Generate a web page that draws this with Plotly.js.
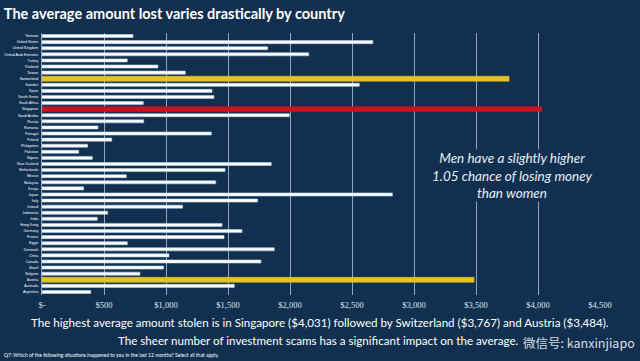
<!DOCTYPE html>
<html><head><meta charset="utf-8">
<script src="https://cdn.plot.ly/plotly-3.0.1.min.js"></script>
<style>html,body{margin:0;padding:0;background:#11304f;}#c{width:640px;height:361px;}</style>
</head><body><div id="c"></div>
<script>
const countries = ["Vietnam","United States","United Kingdom","United Arab Emirates","Turkey","Thailand","Taiwan","Switzerland","Sweden","Spain","South Korea","South Africa","Singapore","Saudi Arabia","Russia","Romania","Portugal","Poland","Philippines","Pakistan","Nigeria","New Zealand","Netherlands","Mexico","Malaysia","Kenya","Japan","Italy","Ireland","Indonesia","India","Hong Kong","Germany","France","Egypt","Denmark","China","Canada","Brazil","Belgium","Austria","Australia","Argentina"];
const amounts = [734,2668,1820,2151,688,935,1156,3767,2559,1371,1387,817,4031,1995,820,452,1366,562,368,296,406,1849,1476,680,1401,336,2826,1739,1134,530,446,1452,1613,1468,688,1873,1024,1766,981,790,3484,1551,393];
const highlight = {"Switzerland":"#e6c229","Singapore":"#c8141e","Austria":"#e6c229"};
const tickValues = [0,500,1000,1500,2000,2500,3000,3500,4000,4500];
const tickLabels = ["$-","$500","$1,000","$1,500","$2,000","$2,500","$3,000","$3,500","$4,000","$4,500"];

const colors = countries.map(c => highlight[c] || "#ffffff");
const lineColors = countries.map(c => highlight[c] ? highlight[c] : "#b8d0e8");
const widths = countries.map(c => highlight[c] ? 0.8 : 0.5);

const bg = "#11304f";
const trace = {
  type: "bar", orientation: "h", x: amounts, y: countries,
  marker: {color: colors, line: {color: lineColors, width: 0.6}},
  width: widths, hoverinfo: "none"
};
const px = v => (v - 42) / 558;
const py = v => (295 - v) / 262;
const layout = {
  width: 640, height: 361,
  paper_bgcolor: bg, plot_bgcolor: bg,
  margin: {l: 42, r: 40, t: 33, b: 66},
  showlegend: false,
  title: {text: "<b>The average amount lost varies drastically by country</b>", x: 0.006, xanchor: "left", y: 0.975, yanchor: "top",
          font: {family: "Lato", size: 14.5, color: "#ffffff"}},
  xaxis: {range: [0, 4500], tickvals: tickValues, ticktext: tickLabels, showgrid: true, gridcolor: "#8fa6bf", gridwidth: 1,
          zeroline: false, showline: false, ticks: "", ticklen: 0, ticklabelstandoff: 3,
          tickfont: {family: "Liberation Serif", size: 8.5, color: "#dde6ef"}},
  yaxis: {type: "category", autorange: "reversed", showgrid: false, zeroline: false, showline: true, linecolor: "#8fa6bf", linewidth: 1,
          ticks: "", tickfont: {family: "Liberation Sans", size: 3.6, color: "#ffffff"}, ticklabelstandoff: 2},
  annotations: [
    {xref: "paper", yref: "paper", x: px(512), y: py(175), xanchor: "center", yanchor: "middle",
     text: "<i>Men have a slightly higher<br>1.05 chance of losing money<br>than women</i>", showarrow: false, align: "center",
     bgcolor: bg, borderpad: 0,
     font: {family: "Lato", size: 13.5, color: "#e8eef5"}},
    {xref: "paper", yref: "paper", x: px(320), y: py(322), xanchor: "center", yanchor: "middle",
     text: "The highest average amount stolen is in Singapore ($4,031) followed by Switzerland ($3,767) and Austria ($3,484).",
     showarrow: false, align: "center",
     font: {family: "Lato", size: 11.6, color: "#ffffff"}},
    {xref: "paper", yref: "paper", x: px(318), y: py(340), xanchor: "center", yanchor: "middle",
     text: "The sheer number of investment scams has a significant impact on the average.",
     showarrow: false, align: "center",
     font: {family: "Lato", size: 11.6, color: "#ffffff"}},
    {xref: "paper", yref: "paper", x: px(2), y: py(355), xanchor: "left", yanchor: "middle",
     text: "Q7: Which of the following situations happened to you in the last 12 months? Select all that apply.",
     showarrow: false, font: {family: "Lato", size: 5, color: "#ffffff"}},
    {xref: "paper", yref: "paper", x: px(637), y: py(342), xanchor: "right", yanchor: "middle",
     text: "微信号: kanxinjiapo", showarrow: false,
     font: {family: "Noto Sans CJK SC", size: 12.5, color: "rgba(255,255,255,0.85)"}}
  ]
};
Plotly.newPlot("c", [trace], layout, {staticPlot: true, displayModeBar: false});
</script></body></html>
